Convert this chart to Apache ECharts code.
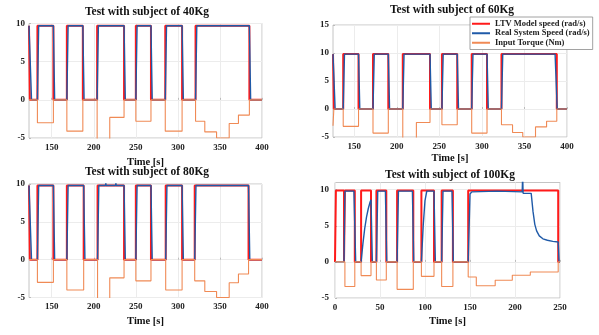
<!DOCTYPE html>
<html><head><meta charset="utf-8">
<script src="https://cdn.jsdelivr.net/npm/echarts@6/dist/echarts.min.js"></script>
<style>html,body{margin:0;padding:0;background:#fff}#c{width:599px;height:335px}</style>
</head><body><div id="c"></div>
<script>
// ---------- titles & labels ----------
const panelTitles = ['Test with subject of 40Kg','Test with subject of 60Kg','Test with subject of 80Kg','Test with subject of 100Kg'];
const xName = 'Time [s]';
const seriesNames = ['LTV Model speed (rad/s)','Real System Speed (rad/s)','Input Torque (Nm)'];

// ---------- tick labels ----------
const xTicksA = [150,200,250,300,350,400];
const xTicksB = [0,50,100,150,200,250];
const yTicks40 = [-5,0,5,10];
const yTicks60 = [-5,0,5,10,15];
const yTicks80 = [-5,0,5,10];
const yTicks100 = [-5,0,5,10];

// ---------- 40 Kg ----------
const model40 = [[123,9.7],[124,0],[133,9.7],[152,0],[168,9.7],[187,0],[204,9.7],[236,0],[250,9.7],[268,0],[285,9.7],[305,0],[321,9.7],[385,0],[400,0]];
const real40 = [[123,9.7],[124.5,9.7],[126,0],[133,0],[134.5,9.7],[152,9.7],[153.5,0],[168,0],[169.5,9.7],[187,9.7],[188.5,0],[204,0],[205.5,9.7],[236,9.7],[237.5,0],[250,0],[251.5,9.7],[268,9.7],[269.5,0],[285,0],[286.5,9.7],[305,9.7],[306.5,0],[321,0],[322.5,9.7],[350,9.7],[350.3,9.95],[350.6,9.7],[385,9.7],[386.5,0],[400,0]];
const torque40 = [[123,0],[133,-3],[152,0],[168,-4.1],[187,0],[204,-5.6],[219,-2.3],[236,0],[250,-2.8],[268,0],[285,-4.1],[305,0],[321,-2.8],[332,-4.2],[346,-5],[361,-3.1],[372,-2],[385,0],[400,0]];

// ---------- 60 Kg ----------
const model60 = [[125,9.8],[126,0],[137,9.8],[155,0],[172,9.8],[190,0],[207,9.8],[239,0],[253,9.8],[271,0],[288,9.8],[306,0],[323,9.8],[388,0],[400,0]];
const real60 = [[125,9.8],[126,9.8],[127.5,0],[137,0],[138.5,9.8],[155,9.8],[156.5,0],[172,0],[173.5,9.8],[190,9.8],[191.5,0],[207,0],[208.5,9.8],[239,9.8],[240.5,0],[253,0],[254.5,9.8],[271,9.8],[272.5,0],[288,0],[289.5,9.8],[306,9.8],[307.5,0],[323,0],[324.5,9.8],[386,9.8],[388.5,0],[400,0]];
const torque60 = [[125,-3],[126,0],[137,-3.1],[155,0],[172,-4.3],[190,0],[207,-5.6],[223,-2.4],[239,0],[253,-2.8],[271,0],[288,-4.3],[306,0],[323,-2.8],[336,-4.2],[348,-5],[363,-3.2],[376,-2.2],[388,0],[400,0]];

// ---------- 80 Kg ----------
const model80 = [[123,9.8],[124,0],[133,9.8],[152,0],[168,9.8],[188,0],[204.5,9.8],[236,0],[250,9.8],[268,0],[285.5,9.8],[305,0],[320,9.8],[384,0],[400,0]];
const real80 = [[123,9.8],[124.5,9.8],[126,0],[133,0],[134.5,9.8],[152,9.8],[153.5,0],[168,0],[169.5,9.8],[188,9.8],[189.5,0],[204.5,0],[206,9.8],[214,9.8],[214.3,10.3],[214.6,9.8],[226,9.8],[226.3,10.3],[226.6,9.8],[236,9.8],[237.5,0],[250,0],[251.5,9.8],[268,9.8],[269.5,0],[285.5,0],[287,9.8],[305,9.8],[306.5,0],[320,0],[321.5,9.8],[384,9.8],[385.5,0],[400,0]];
const torque80 = [[123,0],[133,-3],[152,0],[168,-4],[188,0],[204.5,-5.6],[219,-2.4],[236,0],[250,-2.8],[268,0],[285.5,-4],[305,0],[320,-2.8],[332,-4.2],[346,-5],[361,-3.05],[372,-1.9],[384,0],[400,0]];

// ---------- 100 Kg ----------
const model100 = [[0,0],[1,9.9],[10,0],[11,9.9],[22,0],[29,9.9],[40,0],[46,9.9],[57,0],[69,9.9],[87,0],[96,9.9],[110,0],[118.5,9.9],[131,0],[148,9.9],[248,0],[250,0]];
const real100 = [[0,0],[10,0],[11,9.8],[21,9.8],[23,0],[29,0],[31,2.5],[33,4.6],[35,6.2],[37,7.4],[39,8.3],[40,8.6],[41.5,0],[46,0],[47.5,9.8],[56,9.8],[57.5,0],[69,0],[70.5,9.8],[86,9.8],[87.5,0],[96,0],[98,5],[100,8.5],[102,9.8],[110,9.8],[111.5,0],[118.5,0],[120,9.8],[130,9.8],[131.5,0],[148,0],[150,9.4],[152,9.7],[180,9.8],[208,9.7],[208.5,12],[209,9.5],[218,9.5],[220,7],[222,5.2],[224,4.3],[227,3.6],[231,3.2],[236,3.0],[242,2.85],[248,2.75],[249,0],[250,0]];
const torque100 = [[0,0],[11,-3.4],[22,0],[29,-1.9],[40,0],[46,-2.5],[57,0],[69,-3.8],[87,0],[96,-2.0],[110,0],[118.5,-3.4],[131,0],[148,-2.1],[157,-3.3],[178,-2.55],[197,-1.85],[217,-1.4],[248,0],[250,0]];

// ---------- layout ----------
const FONT = "'Liberation Serif','Times New Roman',serif";
const panels = [
  {grid:{left:29,top:23.5,width:233,height:114.5}, x:[123,400], y:[-5,10], xt:xTicksA, yt:yTicks40, gap:18.5, title:[147,12.5], data:[model40,real40,torque40]},
  {grid:{left:333,top:25,width:234,height:112}, x:[125,400], y:[-5,15], xt:xTicksA, yt:yTicks60, gap:16, title:[452,10.5], data:[model60,real60,torque60]},
  {grid:{left:29,top:184,width:233,height:113.5}, x:[123,400], y:[-5,10], xt:xTicksA, yt:yTicks80, gap:18, title:[147,172], data:[model80,real80,torque80]},
  {grid:{left:335,top:182.5,width:225,height:115.5}, x:[0,250], y:[-5,11], xt:xTicksB, yt:yTicks100, gap:18, title:[450,175.5], data:[model100,real100,torque100]}
];
const colors = ['#ff1a1a','#1f5aa8','#f08a55'];
const widths = [2,1.4,1.1];

const grids=[], xAxes=[], yAxes=[], series=[], graphics=[];
panels.forEach((p,i)=>{
  grids.push(Object.assign({show:true,borderColor:'#c4c4c4',borderWidth:1,backgroundColor:'#fff',containLabel:false}, p.grid));
  const lab = {fontFamily:FONT,fontWeight:'bold',fontSize:9,color:'#222'};
  xAxes.push({type:'value',gridIndex:i,min:p.x[0],max:p.x[1],
    name:xName,nameLocation:'middle',nameGap:p.gap,
    nameTextStyle:{fontFamily:FONT,fontWeight:'bold',fontSize:10.5,color:'#111'},
    axisLine:{show:false},
    axisTick:{show:true,inside:true,length:2,lineStyle:{color:'#bbb'},customValues:p.xt},
    axisLabel:Object.assign({margin:5,customValues:p.xt},lab),
    splitLine:{show:true,lineStyle:{color:'#ececec',width:1}}});
  yAxes.push({type:'value',gridIndex:i,min:p.y[0],max:p.y[1],
    axisLine:{show:false},
    axisTick:{show:true,inside:true,length:2,lineStyle:{color:'#bbb'},customValues:p.yt},
    axisLabel:Object.assign({margin:i===3?6:4,customValues:p.yt},lab),
    splitLine:{show:true,lineStyle:{color:'#ececec',width:1}}});
  p.data.forEach((d,k)=>{
    series.push({name:seriesNames[k],type:'line',xAxisIndex:i,yAxisIndex:i,data:d,
      step:k===1?false:'end',showSymbol:false,symbol:'none',clip:true,
      lineStyle:{color:colors[k],width:widths[k]},itemStyle:{color:colors[k]},
      emphasis:{disabled:true},animation:false});
  });
  graphics.push({type:'text',x:p.title[0],y:p.title[1],z:100,
    style:{text:panelTitles[i],font:"bold 11.5px 'Liberation Serif','Times New Roman',serif",fill:'#111',align:'center',verticalAlign:'middle'}});
});

const chart = echarts.init(document.getElementById('c'),null,{renderer:'canvas'});
chart.setOption({
  animation:false,
  backgroundColor:'#fff',
  grid:grids, xAxis:xAxes, yAxis:yAxes, series:series, graphic:graphics,
  legend:{show:true,data:seriesNames,orient:'vertical',left:470,top:17,
    padding:[2,3,2,2],itemGap:0,itemWidth:18,itemHeight:2,itemTextGap:3,icon:'rect',
    backgroundColor:'#fff',borderColor:'#8a8a8a',borderWidth:0.8,
    textStyle:{fontFamily:FONT,fontWeight:'bold',fontSize:8.5,lineHeight:9.5,color:'#222'},
    selectedMode:false,z:50}
});
</script>
</body></html>
